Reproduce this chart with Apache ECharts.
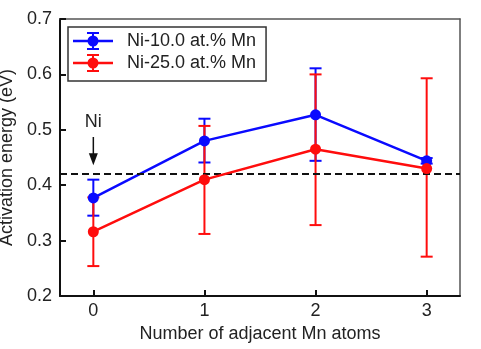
<!DOCTYPE html>
<html>
<head>
<meta charset="utf-8">
<script src="https://cdn.jsdelivr.net/npm/echarts@6/dist/echarts.min.js"></script>
<style>html,body{margin:0;padding:0;background:#fff}#c{width:481px;height:349px}</style>
</head>
<body>
<div id="c"></div>
<script>
const xValues = [0, 1, 2, 3];
const seriesNames = ['Ni-10.0 at.% Mn', 'Ni-25.0 at.% Mn'];
const ni10 = [0.377, 0.480, 0.527, 0.444];
const ni10Low = [0.345, 0.441, 0.444, 0.439];
const ni10High = [0.410, 0.520, 0.611, 0.449];
const ni25 = [0.316, 0.410, 0.465, 0.430];
const ni25Low = [0.254, 0.312, 0.328, 0.271];
const ni25High = [0.378, 0.507, 0.600, 0.593];
const refLine = 0.423;
const yTicks = [0.2, 0.3, 0.4, 0.5, 0.6, 0.7];
const annot = { x: 0, label: 'Ni', textY: 0.514, fromY: 0.487, toY: 0.436 };

const FONT = "'Liberation Sans', Arial, sans-serif";
const BLUE = '#0a0aff';
const RED = '#ff0d0d';
const TXT = '#222';

const iconPath = 'path://M0,7.8h40v2.4h-40z M19,0h2v18h-2z M14,0h12v2h-12z M14,16h12v2h-12z M25.5,9a5.5,5.5 0 1 1 -11,0a5.5,5.5 0 1 1 11,0z';

function errBar(color) {
  return function (params, api) {
    const x = api.value(0), lo = api.value(1), hi = api.value(2);
    const p1 = api.coord([x, lo]), p2 = api.coord([x, hi]);
    const w = 6;
    const st = { stroke: color, lineWidth: 2 };
    return {
      type: 'group',
      children: [
        { type: 'line', shape: { x1: p1[0], y1: p1[1], x2: p2[0], y2: p2[1] }, style: st },
        { type: 'line', shape: { x1: p1[0] - w, y1: p1[1], x2: p1[0] + w, y2: p1[1] }, style: st },
        { type: 'line', shape: { x1: p2[0] - w, y1: p2[1], x2: p2[0] + w, y2: p2[1] }, style: st }
      ]
    };
  };
}

const chart = echarts.init(document.getElementById('c'), null, { renderer: 'canvas' });
const option = {
  animation: false,
  backgroundColor: '#fff',
  grid: { left: 60, right: 21, top: 19, bottom: 53, containLabel: false, outerBoundsMode: 'none' },
  legend: {
    orient: 'vertical', left: 68, top: 27,
    itemWidth: 40, itemHeight: 18, itemGap: 4,
    padding: [5, 10, 9, 5],
    borderColor: '#333', borderWidth: 1.5,
    textStyle: { fontSize: 18, color: TXT, fontFamily: FONT, padding: [0, 0, 0, 9] },
    data: [{ name: seriesNames[0], icon: iconPath }, { name: seriesNames[1], icon: iconPath }]
  },
  xAxis: [{
    type: 'value', min: -0.3, max: 3.3, position: 'bottom',
    axisLine: { onZero: false, lineStyle: { color: '#111', width: 2 } },
    axisTick: { inside: true, length: 6, customValues: xValues, lineStyle: { color: '#111', width: 2 } },
    axisLabel: { customValues: xValues, fontSize: 18, color: TXT, margin: 6, fontFamily: FONT },
    splitLine: { show: false },
    name: 'Number of adjacent Mn atoms', nameLocation: 'middle', nameGap: 28,
    nameTextStyle: { fontSize: 18, color: TXT, fontFamily: FONT }
  }, {
    type: 'value', min: -0.3, max: 3.3, position: 'top',
    axisLine: { onZero: false, lineStyle: { color: '#555', width: 1.5 } },
    axisTick: { show: false }, axisLabel: { show: false }, splitLine: { show: false }
  }],
  yAxis: [{
    type: 'value', min: 0.2, max: 0.7, interval: 0.1, position: 'left',
    axisLine: { show: true, onZero: false, lineStyle: { color: '#111', width: 2 } },
    axisTick: { show: true, inside: true, length: 6, customValues: yTicks, lineStyle: { color: '#111', width: 2 } },
    axisLabel: { customValues: yTicks, fontSize: 18, color: TXT, margin: 8, fontFamily: FONT, formatter: v => Number(v).toFixed(1) },
    splitLine: { show: false },
    name: 'Activation energy (eV)', nameLocation: 'middle', nameGap: 43,
    nameTextStyle: { fontSize: 18, color: TXT, fontFamily: FONT }
  }, {
    type: 'value', min: 0.2, max: 0.7, position: 'right',
    axisLine: { show: true, onZero: false, lineStyle: { color: '#555', width: 1.5 } },
    axisTick: { show: false }, axisLabel: { show: false }, splitLine: { show: false }
  }],
  series: [
    {
      type: 'line', data: [], z: 1, silent: true,
      markLine: {
        silent: true, symbol: 'none', label: { show: false },
        lineStyle: { color: '#111', type: [7, 4], width: 2 },
        data: [{ yAxis: refLine }]
      }
    },
    {
      type: 'custom', z: 2, silent: true,
      renderItem: errBar(BLUE),
      encode: { x: 0, y: [1, 2] },
      data: xValues.map((x, i) => [x, ni10Low[i], ni10High[i]])
    },
    {
      type: 'custom', z: 3, silent: true,
      renderItem: errBar(RED),
      encode: { x: 0, y: [1, 2] },
      data: xValues.map((x, i) => [x, ni25Low[i], ni25High[i]])
    },
    {
      name: seriesNames[0], type: 'line', z: 4,
      symbol: 'circle', symbolSize: 11,
      itemStyle: { color: BLUE }, lineStyle: { color: BLUE, width: 2.5 },
      data: xValues.map((x, i) => [x, ni10[i]])
    },
    {
      name: seriesNames[1], type: 'line', z: 5,
      symbol: 'circle', symbolSize: 11,
      itemStyle: { color: RED }, lineStyle: { color: RED, width: 2.5 },
      data: xValues.map((x, i) => [x, ni25[i]])
    },
    {
      type: 'custom', z: 6, silent: true,
      encode: { x: 0, y: [1, 2, 3] },
      data: [[annot.x, annot.textY, annot.fromY, annot.toY]],
      renderItem: function (params, api) {
        const x = api.value(0);
        const pt = api.coord([x, api.value(1)]);
        const pf = api.coord([x, api.value(2)]);
        const pe = api.coord([x, api.value(3)]);
        const head = 12;
        return {
          type: 'group',
          children: [
            { type: 'text', style: { text: annot.label, x: pt[0], y: pt[1], align: 'center', verticalAlign: 'middle', fontSize: 18, fontFamily: FONT, fill: TXT } },
            { type: 'line', shape: { x1: pf[0], y1: pf[1], x2: pe[0], y2: pe[1] - head + 1 }, style: { stroke: '#111', lineWidth: 1.5 } },
            { type: 'polygon', shape: { points: [[pe[0] - 4.5, pe[1] - head], [pe[0] + 4.5, pe[1] - head], [pe[0], pe[1]]] }, style: { fill: '#111' } }
          ]
        };
      }
    }
  ]
};
chart.setOption(option);
</script>
</body>
</html>
